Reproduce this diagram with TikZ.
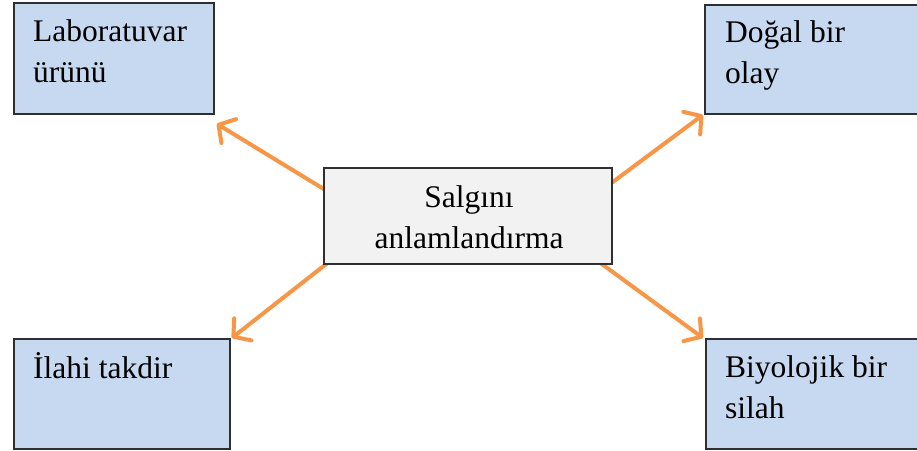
\documentclass[tikz,border=0pt]{standalone}
\usepackage{fontspec}
\setmainfont{Liberation Serif}
\usetikzlibrary{arrows.meta,calc,backgrounds}
\definecolor{boxblue}{HTML}{C6D9F0}
\definecolor{boxgray}{HTML}{F2F2F2}
\definecolor{arrorange}{HTML}{F79646}
\definecolor{edge}{HTML}{2F2F2F}
\tikzset{
  box/.style={draw=edge, line width=1.8pt, fill=boxblue, anchor=north west, inner sep=0pt},
  cbox/.style={draw=edge, line width=1.8pt, fill=boxgray, anchor=north west, inner sep=0pt},
  txt/.style={font=\fontsize{31.5}{40.5}\selectfont, align=left, inner sep=0pt, anchor=base west},
  ctxt/.style={font=\fontsize{31.5}{40.5}\selectfont, align=center, inner sep=0pt, anchor=base},
  conn/.style={draw=arrorange, line width=4pt, line cap=round,
    -{Straight Barb[length=12pt,width=28pt,round]}}
}
\begin{document}
\begin{tikzpicture}[x=1pt,y=-1pt]
\useasboundingbox (0,0) rectangle (917,450);
% boxes
\node[box, minimum width=200pt, minimum height=111pt] (lab) at (13,2) {};
\node[box, minimum width=214pt, minimum height=109pt] (dog) at (704,4) {};
\node[cbox, minimum width=288pt, minimum height=96pt] (ctr) at (323,167) {};
\node[box, minimum width=216pt, minimum height=110pt] (ila) at (13,338) {};
\node[box, minimum width=213pt, minimum height=110pt] (biy) at (705,338) {};
% texts (anchored at the baseline of the last line)
\node[txt] (labt) at (33,82) {Laboratuvar\\ürünü};
\node[txt] (dogt) at (725,83) {Doğal bir\\olay};
\node[ctxt] (ctrt) at (469,248) {Salgını\\anlamlandırma};
\node[txt] (ilat) at (33,378) {İlahi takdir};
\node[txt] (biyt) at (725,418) {Biyolojik bir\\silah};
% connectors
\begin{scope}[on background layer]
\draw[conn] ($(ctr.north west)+(4,24)$) -- ($(lab.south east)+(2,9)$);
\draw[conn] ($(ctr.north east)+(-4,18)$) -- ($(dog.south west)+(-1,0)$);
\draw[conn] ($(ctr.south west)+(6,-3)$) -- ($(ila.north east)+(1,0)$);
\draw[conn] ($(ctr.south east)+(-14,-3)$) -- ($(biy.north west)+(-2,0)$);
\end{scope}
\end{tikzpicture}
\end{document}
